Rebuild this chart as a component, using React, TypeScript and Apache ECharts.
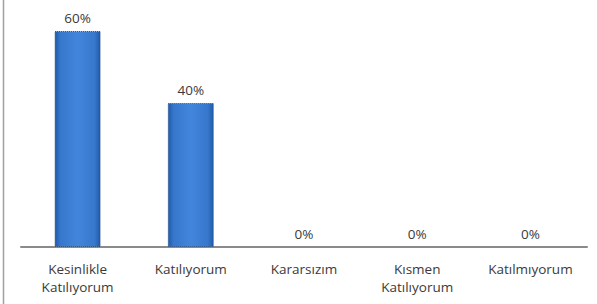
import React, { useEffect, useRef } from "react";
import * as echarts from "echarts";

const categories = ["Kesinlikle\nKatılıyorum", "Katılıyorum", "Kararsızım", "Kısmen\nKatılıyorum", "Katılmıyorum"];
const values = [60, 40, 0, 0, 0];

export default function App() {
  const ref = useRef<HTMLDivElement>(null);
  useEffect(() => {
    const chart = echarts.init(ref.current!, null, { renderer: "svg" });
    chart.setOption({
      animation: false,
      backgroundColor: "#ffffff",
      grid: { left: 21, right: 10, top: 31, bottom: 57 },
      xAxis: {
        type: "category",
        data: categories,
        axisLine: { lineStyle: { color: "#8a8a8a", width: 2 } },
        axisTick: { show: false },
        axisLabel: {
          color: "#3a3a3a",
          fontFamily: "Open Sans",
          fontSize: 13.5,
          margin: 13,
          lineHeight: 18,
          interval: 0,
        },
      },
      yAxis: {
        type: "value",
        min: 0,
        max: 60,
        show: false,
        splitLine: { show: false },
      },
      graphic: [
        {
          type: "line",
          shape: { x1: 3.5, y1: 0, x2: 3.5, y2: 304 },
          style: { stroke: "#a0a0a0", lineWidth: 1.5 },
        },
      ],
      series: [
        {
          type: "bar",
          data: values.map((v) => ({
            value: v,
            itemStyle: v === 0 ? { borderWidth: 0, opacity: 0 } : {},
          })),
          barWidth: 46,
          itemStyle: {
            color: new echarts.graphic.LinearGradient(0, 0, 1, 0, [
              { offset: 0, color: "#1f5bab" },
              { offset: 0.12, color: "#3777cc" },
              { offset: 0.5, color: "#4286dc" },
              { offset: 0.88, color: "#3777cc" },
              { offset: 1, color: "#1f5bab" },
            ]),
            borderColor: "#2a4f86",
            borderWidth: 1,
            borderType: "dotted",
          },
          label: {
            show: true,
            position: "top",
            distance: 6,
            formatter: "{c}%",
            color: "#3a3a3a",
            fontFamily: "Open Sans",
            fontSize: 13.5,
            opacity: 1,
          },
        },
      ],
    });
    return () => chart.dispose();
  }, []);
  return <div ref={ref} style={{ width: 597, height: 304, position: "absolute", left: 0, top: 0 }} />;
}
